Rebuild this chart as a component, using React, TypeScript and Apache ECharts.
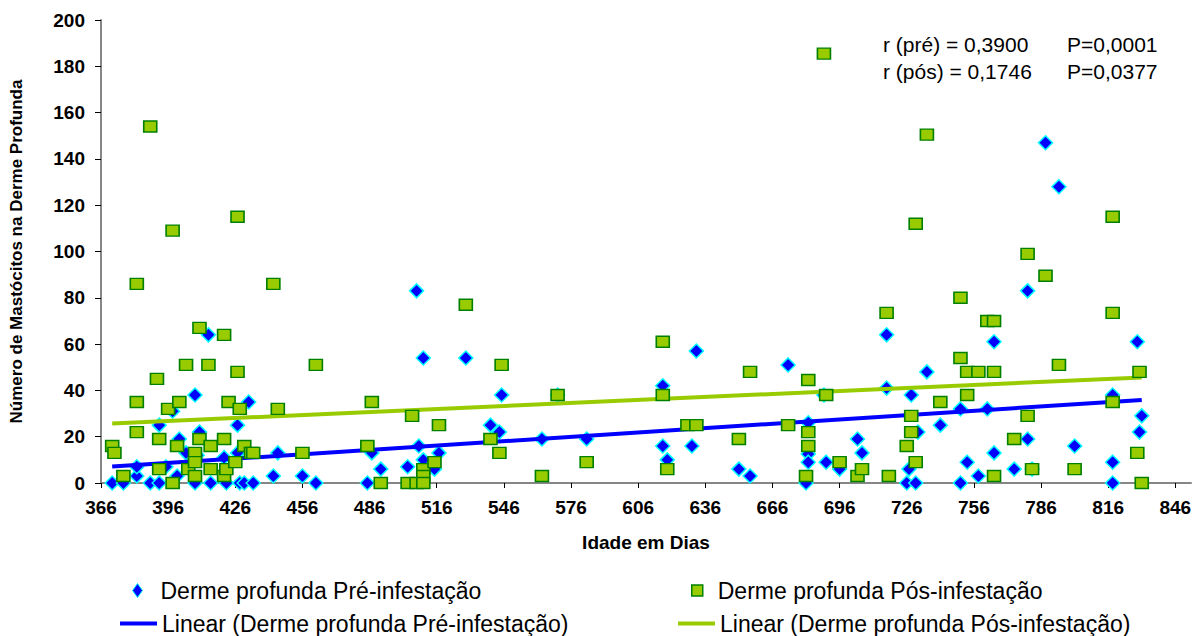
import { useEffect, useRef } from 'react';
import * as echarts from 'echarts';

// Age (days) and mast-cell count in the deep dermis, before infestation
const preInfestacao: [number, number][] = [
  [371, 0], [376, 0], [382, 3], [382, 7], [388, 0], [392, 0], [392, 25], [395, 7], [398, 31], [400, 3],
  [401, 19], [404, 13], [408, 0], [408, 38], [409, 12], [410, 22], [414, 64], [415, 0], [421, 11], [422, 0],
  [427, 25], [427, 13], [428, 0], [430, 0], [432, 35], [434, 0], [443, 3], [445, 13],
  [456, 3], [462, 0], [485, 0], [487, 13], [491, 6], [503, 7], [507, 83], [508, 16], [510, 54], [510, 10],
  [515, 6], [517, 13], [529, 54], [540, 25], [544, 22], [545, 38], [563, 19], [570, 38], [583, 19],
  [617, 42], [617, 16], [619, 10], [630, 16], [632, 57], [651, 6], [656, 3], [673, 51], [681, 0], [682, 26],
  [682, 12.5], [682, 9], [689, 38], [690, 9], [696, 6], [704, 19], [706, 13], [717, 64], [717, 41], [726, 0],
  [727, 6], [728, 38], [730, 0], [731, 22], [735, 48], [741, 25], [750, 32], [750, 0], [753, 9], [758, 3],
  [762, 32], [765, 61], [765, 13], [774, 6], [780, 83], [780, 19], [782, 6], [788, 147], [794, 128], [801, 16],
  [818, 38], [818, 9], [818, 0], [829, 61], [830, 22], [831, 29],
];

// Same animals after infestation
const posInfestacao: [number, number][] = [
  [371, 16], [372, 13], [376, 3], [382, 86], [382, 35], [382, 22], [388, 154], [391, 45], [392, 19], [392, 6],
  [396, 32], [398, 109], [398, 0], [400, 16], [401, 35], [404, 51], [405, 6], [408, 13], [408, 9], [408, 3],
  [410, 67], [410, 19], [414, 51], [415, 16], [415, 6], [421, 64], [421, 19], [421, 3], [422, 6], [423, 35],
  [426, 9], [427, 115], [427, 48], [428, 32], [430, 16], [433, 13], [434, 13], [443, 86], [445, 32],
  [456, 13], [462, 51], [485, 16], [487, 35], [491, 0], [503, 0], [505, 29], [507, 0], [510, 6], [510, 3],
  [510, 0], [515, 9], [517, 25], [529, 77], [540, 19], [544, 13], [545, 51], [563, 3], [570, 38], [583, 9],
  [617, 61], [617, 38], [619, 6], [628, 25], [632, 25], [651, 19], [656, 48], [673, 25], [681, 3], [682, 44.5],
  [682, 22], [682, 16], [689, 185.5], [690, 38], [696, 9], [704, 3], [706, 6], [717, 73.5], [718, 3], [726, 16],
  [728, 29], [728, 22], [730, 112], [730, 9], [735, 150.5], [741, 35], [750, 80], [750, 54], [753, 48], [753, 38],
  [758, 48], [762, 70], [765, 70], [765, 48], [765, 3], [774, 19], [780, 99], [780, 29], [782, 6], [788, 89.5],
  [794, 51], [801, 6], [818, 115], [818, 73.5], [818, 35], [829, 13], [830, 48], [831, 0],
];

// Linear trend end points
const preTrend: [number, number][] = [[371, 7.1], [831, 35.9]];
const posTrend: [number, number][] = [[371, 25.7], [831, 45.6]];

const xTicks = [366, 396, 426, 456, 486, 516, 546, 576, 606, 636, 666, 696, 726, 756, 786, 816, 846];

const NAME_PRE = 'Derme profunda Pré-infestação';
const NAME_POS = 'Derme profunda Pós-infestação';
const NAME_PRE_LIN = 'Linear (Derme profunda Pré-infestação)';
const NAME_POS_LIN = 'Linear (Derme profunda Pós-infestação)';

const stats = [
  { r: 'r (pré) = 0,3900', p: 'P=0,0001' },
  { r: 'r (pós) = 0,1746', p: 'P=0,0377' },
];

const FONT = '"Liberation Sans", Arial, Helvetica, sans-serif';
const BLUE = '#0000FF';
const CYAN = '#00FFFF';
const LIME = '#99CC00';
const DARK_GREEN = '#008000';

export default function App() {
  const ref = useRef<HTMLDivElement>(null);

  useEffect(() => {
    const chart = echarts.init(ref.current!, null, { renderer: 'svg' });
    const legendText = (padLeft: number) => ({
      fontSize: 23,
      color: '#000',
      fontFamily: FONT,
      padding: [0, 0, 0, padLeft],
    });
    const legendBase = { orient: 'horizontal', padding: 0, selectedMode: false, symbolKeepAspect: false };

    chart.setOption({
      animation: false,
      backgroundColor: '#fff',
      textStyle: { fontFamily: FONT },
      grid: { left: 100, top: 20, width: 1091, height: 463, containLabel: false },
      xAxis: {
        type: 'value',
        min: 366,
        max: 853,
        name: 'Idade em Dias',
        nameLocation: 'middle',
        nameGap: 50,
        nameTextStyle: { fontSize: 19, fontWeight: 'bold', color: '#000', fontFamily: FONT },
        axisLine: { show: true, onZero: false, lineStyle: { color: '#868686', width: 2 } },
        axisTick: { show: true, customValues: xTicks, length: 5, lineStyle: { color: '#000', width: 1 } },
        axisLabel: { customValues: xTicks, margin: 15, fontSize: 19, fontWeight: 'bold', color: '#000', fontFamily: FONT },
        splitLine: { show: false },
      },
      yAxis: {
        type: 'value',
        min: 0,
        max: 200,
        interval: 20,
        name: 'Número de Mastócitos na Derme Profunda',
        nameLocation: 'middle',
        nameGap: 76,
        nameTextStyle: { fontSize: 17, fontWeight: 'bold', color: '#000', fontFamily: FONT },
        axisLine: { show: true, lineStyle: { color: '#868686', width: 2 } },
        axisTick: { show: true, length: 6, lineStyle: { color: '#000', width: 1 } },
        axisLabel: { margin: 16, fontSize: 19, fontWeight: 'bold', color: '#000', fontFamily: FONT },
        splitLine: { show: false },
      },
      legend: [
        {
          ...legendBase, left: 132, top: 579, itemWidth: 10, itemHeight: 14, textStyle: legendText(13),
          data: [{ name: NAME_PRE, icon: 'diamond', itemStyle: { color: BLUE, borderColor: CYAN, borderWidth: 1 } }],
        },
        {
          ...legendBase, left: 691, top: 579, itemWidth: 11, itemHeight: 11, textStyle: legendText(10),
          data: [{ name: NAME_POS, icon: 'rect', itemStyle: { color: LIME, borderColor: DARK_GREEN, borderWidth: 1.5 } }],
        },
        {
          ...legendBase, left: 120, top: 612, itemWidth: 37, itemHeight: 4, textStyle: legendText(0),
          data: [{ name: NAME_PRE_LIN, icon: 'rect', itemStyle: { color: BLUE, borderWidth: 0 } }],
        },
        {
          ...legendBase, left: 678, top: 612, itemWidth: 37, itemHeight: 4, textStyle: legendText(0),
          data: [{ name: NAME_POS_LIN, icon: 'rect', itemStyle: { color: LIME, borderWidth: 0 } }],
        },
      ],
      graphic: stats.flatMap((s, i) => [
        { type: 'text', left: 883, top: 34 + i * 27, style: { text: s.r, font: `21px ${FONT}`, fill: '#000' } },
        { type: 'text', left: 1067, top: 34 + i * 27, style: { text: s.p, font: `21px ${FONT}`, fill: '#000' } },
      ]),
      series: [
        {
          name: NAME_PRE,
          type: 'scatter',
          z: 2,
          symbol: 'diamond',
          symbolSize: [14, 14],
          itemStyle: { color: BLUE, borderColor: CYAN, borderWidth: 1.5, opacity: 1 },
          data: preInfestacao,
        },
        {
          name: NAME_PRE_LIN,
          type: 'line',
          z: 3,
          showSymbol: false,
          symbol: 'none',
          lineStyle: { color: BLUE, width: 4 },
          itemStyle: { color: BLUE },
          data: preTrend,
        },
        {
          name: NAME_POS_LIN,
          type: 'line',
          z: 4,
          showSymbol: false,
          symbol: 'none',
          lineStyle: { color: LIME, width: 4 },
          itemStyle: { color: LIME },
          data: posTrend,
        },
        {
          name: NAME_POS,
          type: 'scatter',
          z: 5,
          symbol: 'rect',
          symbolSize: [13, 11],
          itemStyle: { color: LIME, borderColor: DARK_GREEN, borderWidth: 1.5, opacity: 1 },
          data: posInfestacao,
        },
      ],
    });

    return () => chart.dispose();
  }, []);

  return (
    <div
      ref={ref}
      style={{ position: 'fixed', left: 0, top: 0, width: 1196, height: 636, background: '#fff' }}
    />
  );
}
